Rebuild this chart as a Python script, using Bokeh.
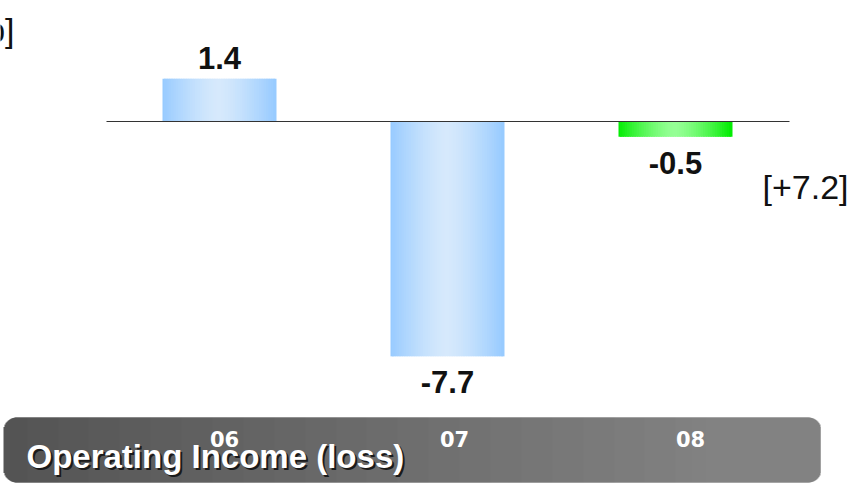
import math
from bokeh.plotting import figure
from bokeh.models import Range1d, ColumnDataSource
from bokeh.embed import file_html
from bokeh.resources import INLINE
from bokeh.core.properties import value

# ---------------- data ----------------
categories = ["06", "07", "08"]
operating_income = [1.4, -7.7, -0.5]
is_forecast = [False, False, True]
title_text = "Operating Income (loss)"
unit_text = "[¥b]"

# ---------------- styles ----------------
W, H = 860, 483
PX_PER_UNIT = 30.5
BASE_PX = 121
X0_PX, STEP_PX = 219, 228
BAR_W = 0.5
BLUE_EDGE, BLUE_CENTER = (150, 202, 255), (214, 233, 252)
GREEN_EDGE, GREEN_CENTER = (0, 236, 0), (150, 255, 150)
BAND_LEFT, BAND_RIGHT, BAND_TOP, BAND_BOTTOM, BAND_R = 3, 820, 417, 482, 13
BAND_C0, BAND_C1 = (84, 84, 84), (130, 130, 130)
cat_label_dx = [5, 7, 15]


def hexc(c):
    return "#%02x%02x%02x" % tuple(int(round(v)) for v in c)


def mix(a, b, t):
    return tuple(a[k] + (b[k] - a[k]) * t for k in range(3))


p = figure(width=W, height=H, output_backend="svg", toolbar_location=None,
           x_axis_type=None, y_axis_type=None, min_border=0,
           x_range=Range1d(-X0_PX / STEP_PX, (W - X0_PX) / STEP_PX),
           y_range=Range1d(-(H - BASE_PX) / PX_PER_UNIT, BASE_PX / PX_PER_UNIT))
p.grid.visible = False
p.outline_line_color = None
p.background_fill_color = "white"
p.border_fill_color = "white"
p.extra_x_ranges = {"px_x": Range1d(0, W)}
p.extra_y_ranges = {"px_y": Range1d(H, 0)}

# ---------------- bars with horizontal gradient ----------------
N = 48
L, R, T, B, C = [], [], [], [], []
for i, v in enumerate(operating_income):
    edge, center = (GREEN_EDGE, GREEN_CENTER) if is_forecast[i] else (BLUE_EDGE, BLUE_CENTER)
    bl, br = i - BAR_W / 2, i + BAR_W / 2
    step = BAR_W / N
    for j in range(N):
        cx = bl + (j + 0.5) * step
        t = abs(cx - i) / (BAR_W / 2)
        col = mix(center, edge, min(1.0, t ** 1.4))
        L.append(max(bl, cx - 0.9 * step))
        R.append(min(br, cx + 0.9 * step))
        T.append(max(v, 0))
        B.append(min(v, 0))
        C.append(hexc(col))
p.quad(left=L, right=R, top=T, bottom=B, fill_color=C, line_color=None)

# baseline
p.segment(x0=[106], x1=[789], y0=[0], y1=[0], x_range_name="px_x",
          line_color="#333333", line_width=1.2)

# value labels
vals_src = ColumnDataSource(dict(
    x=list(range(len(categories))),
    y=operating_income,
    text=["%.1f" % v for v in operating_income],
    yo=[-21 if v >= 0 else 26 for v in operating_income],
))
p.text(x="x", y="y", text="text", y_offset="yo", source=vals_src,
       text_font=value("Liberation Sans"), text_font_style="bold",
       text_font_size="31px", text_align="center", text_baseline="middle",
       text_color="#111111")

# change annotation
delta = operating_income[2] - operating_income[1]
p.text(x=[805], y=[186], text=["[%+.1f]" % delta], x_range_name="px_x", y_range_name="px_y",
       text_font=value("Liberation Sans"), text_font_size="34px",
       text_align="center", text_baseline="middle", text_color="#111111")

# unit label (cut off at left edge, as in the source)
p.text(x=[14], y=[29], text=[unit_text], x_range_name="px_x", y_range_name="px_y",
       text_font=value("Liberation Sans"), text_font_size="34px",
       text_align="right", text_baseline="middle", text_color="#111111")

# ---------------- bottom band ----------------
BL, BR, BT, BB, BC = [], [], [], [], []
for x in range(BAND_LEFT, BAND_RIGHT):
    xc = x + 0.5
    dy = 0.0
    if xc < BAND_LEFT + BAND_R:
        d = BAND_LEFT + BAND_R - xc
        dy = BAND_R - math.sqrt(max(0.0, BAND_R ** 2 - d ** 2))
    elif xc > BAND_RIGHT - BAND_R:
        d = xc - (BAND_RIGHT - BAND_R)
        dy = BAND_R - math.sqrt(max(0.0, BAND_R ** 2 - d ** 2))
    t = (x - BAND_LEFT) / (BAND_RIGHT - BAND_LEFT)
    BL.append(x)
    BR.append(min(x + 2, BAND_RIGHT))
    BT.append(BAND_TOP + dy)
    BB.append(BAND_BOTTOM - dy)
    BC.append(hexc(mix(BAND_C0, BAND_C1, min(1.0, t * 1.15))))
p.quad(left=BL, right=BR, top=BT, bottom=BB, fill_color=BC, line_color=None,
       x_range_name="px_x", y_range_name="px_y")

# category labels
p.text(x=list(range(len(categories))), y=[438] * len(categories), text=categories,
       x_offset=cat_label_dx, y_range_name="px_y",
       text_font=value("DejaVu Sans"), text_font_style="bold", text_font_size="21px",
       text_align="center", text_baseline="middle", text_color="white")

# band title with shadow
for dx, col in ((2, "#1a1a1a"), (0, "white")):
    p.text(x=[26 + dx], y=[456 + dx], text=[title_text], x_range_name="px_x", y_range_name="px_y",
           text_font=value("Liberation Sans"), text_font_style="bold", text_font_size="33px",
           text_align="left", text_baseline="middle", text_color=col)

open("out.html", "w").write(file_html(p, INLINE))
